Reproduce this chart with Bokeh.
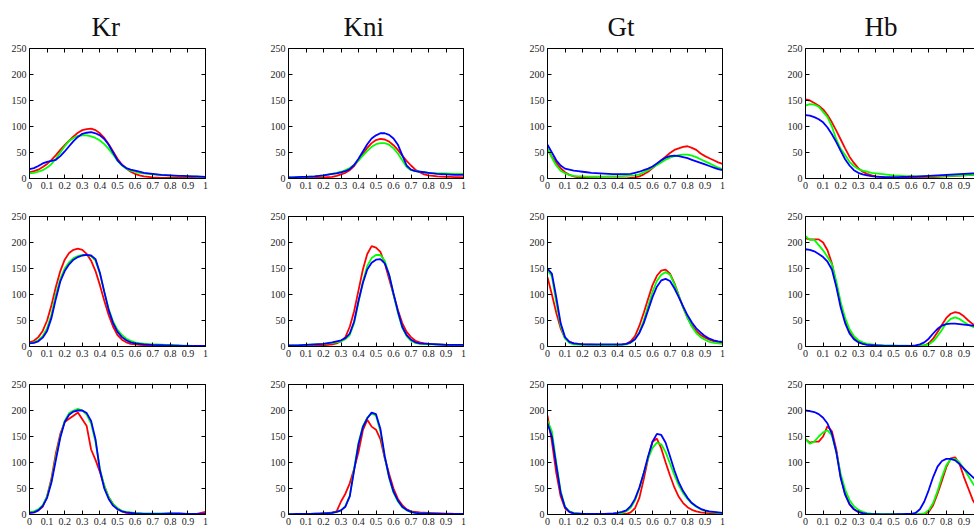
from bokeh.plotting import figure
from bokeh.models import Range1d, LinearAxis, FixedTicker, PrintfTickFormatter
from bokeh.layouts import column, row
from bokeh.embed import file_html
from bokeh.resources import INLINE

# ---------------- data ----------------
TITLES = ["Kr", "Kni", "Gt", "Hb"]
X = [0.0, 0.025, 0.05, 0.075, 0.1, 0.125, 0.15, 0.175, 0.2, 0.225,
     0.25, 0.275, 0.3, 0.325, 0.35, 0.375, 0.4, 0.425, 0.45, 0.475,
     0.5, 0.525, 0.55, 0.575, 0.6, 0.625, 0.65, 0.675, 0.7, 0.725,
     0.75, 0.775, 0.8, 0.825, 0.85, 0.875, 0.9, 0.925, 0.95, 0.975, 1.0]
X_TICKS = [0, 0.1, 0.2, 0.3, 0.4, 0.5, 0.6, 0.7, 0.8, 0.9, 1.0]
Y_TICKS = [0, 50, 100, 150, 200, 250]

# Kr
KR1_R = [12, 14, 17, 22, 28, 36, 45, 55, 64, 73, 81, 88, 93, 95, 96, 93, 87, 78, 66, 52,
         38, 27, 19, 13, 9, 6, 4, 3, 2, 1.5, 1, 1, 1, 1, 1, 1, 1, 1, 1, 1, 1]
KR1_G = [10, 11, 13, 16, 21, 28, 38, 50, 62, 72, 78, 82, 83, 83, 81, 78, 73, 66, 57, 46,
         34, 25, 19, 15, 13, 11, 10, 9, 8, 7, 6.5, 6, 5.5, 5, 5, 4.5, 4, 4, 3.5, 3, 3]
KR1_B = [18, 20, 24, 29, 32, 34, 36, 43, 52, 62, 72, 80, 86, 88, 89, 87, 83, 76, 65, 50,
         35, 26, 20, 17, 15, 13, 11, 10, 9, 8, 7, 6.5, 6, 5.5, 5, 5, 4.5, 4, 4, 3.5, 3]
KR2_R = [8, 11, 18, 30, 50, 80, 115, 145, 167, 180, 186, 188, 186, 178, 165, 145, 118, 88, 60, 38,
         22, 13, 8, 5, 4, 3, 2.5, 2, 2, 1.5, 1.5, 1, 1, 1, 1, 1, 1, 1, 1, 0.5, 0.5]
KR2_G = [6, 8, 12, 20, 35, 62, 100, 130, 150, 162, 170, 174, 176, 176, 174, 165, 140, 105, 72, 48,
         32, 22, 15, 11, 8, 6.5, 5.5, 4.5, 4, 3.8, 3.5, 3.2, 3, 2.5, 2, 1.8, 1.5, 1.2, 1, 1, 1]
KR2_B = [6, 7, 10, 17, 30, 55, 92, 125, 145, 158, 167, 172, 175, 176, 175, 168, 142, 105, 70, 45,
         28, 18, 12, 8, 6, 5, 4, 3.5, 3, 2.8, 2.5, 2.2, 2, 1.8, 1.5, 1.2, 1, 1, 1, 1, 1]
KR3_R = [3, 4, 8, 15, 35, 70, 118, 155, 178, 184, 190, 196, 183, 170, 125, 105, 82, 55, 33, 20,
         12, 6, 3, 2, 1, 1, 1, 1, 1, 1, 1, 1, 1, 1, 1, 1, 1, 1, 1, 3, 5]
KR3_G = [5, 6, 10, 18, 35, 65, 110, 150, 180, 195, 200, 203, 200, 192, 175, 140, 88, 55, 33, 20,
         12, 7, 5, 4, 3, 2.5, 2, 2, 2, 2, 2, 2, 2, 1.5, 1.5, 1, 1, 1, 1, 1, 1]
KR3_B = [3, 4, 8, 16, 32, 62, 105, 148, 178, 192, 198, 200, 200, 195, 180, 145, 85, 50, 30, 17,
         10, 6, 4, 3, 2, 1.5, 1, 1, 1, 1, 1, 1.5, 2, 2, 2, 1.5, 1, 1, 1, 1, 1]
# Kni
KNI1_R = [1, 1, 1, 1, 1, 1, 1.5, 1.5, 2, 2.5, 3, 5, 8, 11, 16, 24, 35, 47, 59, 68,
          74, 76, 75, 71, 64, 55, 44, 34, 25, 17, 12, 8, 6, 5, 4, 3.5, 3, 3, 2.5, 2.5, 2]
KNI1_G = [2, 2, 2.5, 3, 3, 3.5, 4, 5, 6, 7.5, 9, 11, 13, 16, 20, 26, 35, 44, 53, 61,
          66, 68, 68, 65, 58, 48, 35, 22, 16, 14, 13, 12, 11, 10.5, 10, 10, 10, 9.5, 9, 9, 9]
KNI1_B = [2, 2, 2.5, 3, 3, 3.5, 4, 5, 6, 7.5, 9, 10, 12, 14, 18, 26, 38, 52, 66, 77,
          83, 87, 87, 84, 77, 65, 45, 25, 17, 14, 13, 12, 11, 10, 9, 8.5, 8, 7.5, 7, 7, 7]
KNI2_R = [1, 1, 1, 1, 1, 1, 1.5, 1.5, 2, 3, 4, 6, 10, 18, 38, 68, 108, 148, 178, 193,
          190, 182, 160, 130, 100, 70, 45, 28, 18, 11, 8, 6, 5, 4.5, 4, 3.5, 3, 3, 2.5, 2, 2]
KNI2_G = [2, 2, 2, 2.5, 3, 3.5, 4, 4.5, 5, 6, 7, 8, 10, 14, 22, 45, 85, 125, 155, 170,
          176, 176, 165, 138, 100, 65, 36, 20, 11, 7, 5, 4.5, 4, 4, 3.5, 3.5, 3, 3, 3, 3, 3]
KNI2_B = [2, 2, 2, 2.5, 3, 3.5, 4, 4.5, 5, 6.5, 8, 10, 12, 16, 25, 48, 88, 122, 148, 161,
          167, 168, 160, 138, 102, 68, 38, 22, 13, 8, 6, 5.5, 5, 4.5, 4, 3.5, 3, 3, 3, 3, 3]
KNI3_R = [0, 0.5, 0.5, 1, 1, 1, 1, 1.5, 2, 2.5, 4, 6, 25, 40, 60, 88, 120, 162, 182, 169,
          163, 145, 108, 78, 50, 30, 18, 10, 6, 5, 4, 3.5, 3, 2.5, 2, 2, 1.5, 1.5, 1, 1, 1]
KNI3_G = [0.5, 0.5, 1, 1, 1, 1, 1.5, 1.5, 2, 2.5, 3, 5, 8, 16, 36, 88, 138, 170, 186, 195,
          190, 160, 110, 70, 42, 25, 14, 8, 5, 3, 2, 2, 2, 1.5, 1.5, 1, 1, 1, 1, 1, 1]
KNI3_B = [0.5, 0.5, 1, 1, 1, 1, 1.5, 1.5, 2, 2.5, 3, 5, 8, 15, 35, 85, 135, 168, 185, 196,
          193, 165, 112, 72, 44, 27, 15, 9, 5, 3, 2, 2, 2, 1.5, 1.5, 1, 1, 1, 1, 1, 1]
# Gt
GT1_R = [55, 42, 30, 20, 12, 7, 4, 2, 1, 1, 0.5, 0.5, 0, 0, 0, 0, 0, 0, 0, 1,
         2, 4, 8, 13, 20, 27, 35, 42, 49, 55, 58, 61, 62, 59, 55, 48, 43, 39, 35, 31, 28]
GT1_G = [58, 40, 25, 15, 10, 7, 5, 4, 4, 3.5, 3.5, 3.5, 3.5, 3.5, 4, 4, 4, 4.5, 5, 5.5,
         6, 8, 12, 16, 21, 26, 31, 36, 40, 43, 45, 46, 46, 44, 41, 37, 33, 29, 25, 21, 18]
GT1_B = [65, 50, 35, 25, 19, 17, 15, 14, 13, 12, 11, 10.5, 10, 9.5, 9, 8.5, 8.5, 8.5, 8.5, 9,
         11, 13, 16, 19, 23, 29, 35, 40, 43, 44, 43, 41, 39, 36, 33, 30, 27, 24, 21, 18, 16]
GT2_R = [133, 100, 65, 35, 16, 9, 6, 5, 4, 3.5, 3.5, 3, 3, 3, 3, 3, 3, 3.5, 5, 10,
         20, 40, 65, 92, 118, 136, 146, 148, 140, 122, 98, 75, 55, 40, 30, 22, 17, 13, 10, 9, 8]
GT2_G = [148, 135, 85, 40, 15, 7, 4, 3.5, 3, 3, 3, 3, 2.5, 2.5, 2.5, 2.5, 3, 3, 4, 7,
         14, 28, 50, 78, 105, 126, 138, 143, 138, 120, 98, 75, 55, 38, 26, 18, 13, 9, 7, 6, 5]
GT2_B = [150, 140, 95, 45, 18, 9, 6, 5, 4.5, 4.2, 4, 4, 4, 4, 4, 4, 4, 4, 5, 8,
         14, 26, 45, 70, 95, 115, 127, 130, 126, 112, 95, 77, 60, 46, 35, 27, 20, 15, 12, 10, 9]
GT3_R = [190, 140, 80, 35, 12, 5, 2, 1.5, 1, 1, 1, 1, 1, 0.5, 0.5, 0.5, 0.5, 0.5, 1, 4,
         12, 32, 68, 108, 140, 146, 127, 100, 75, 52, 34, 22, 14, 9, 6, 4, 3, 2.5, 2, 1.5, 1]
GT3_G = [180, 160, 100, 45, 15, 6, 3, 2, 1.5, 1.2, 1, 1, 1, 1, 1, 1, 1.5, 3, 6, 13,
         27, 50, 80, 108, 128, 138, 135, 120, 98, 76, 56, 41, 30, 21, 15, 10, 7, 5, 4, 3, 2]
GT3_B = [175, 150, 95, 42, 14, 5, 2, 1.5, 1, 1, 1, 1, 1, 1, 1.5, 2, 3, 5, 8, 16,
         30, 52, 80, 112, 140, 155, 153, 138, 112, 85, 62, 45, 32, 22, 16, 11, 8, 6, 5, 4, 3]
# Hb
HB1_R = [152, 150, 145, 140, 133, 122, 108, 92, 75, 58, 42, 30, 20, 13, 9, 6, 4, 3, 2, 1.5,
         1, 1, 1, 1, 1, 1, 1.5, 1.5, 2, 2.5, 3, 3.5, 4, 4.5, 5, 5.5, 6, 6.5, 7, 7.5, 8]
HB1_G = [140, 143, 142, 138, 128, 118, 100, 75, 57, 45, 32, 24, 18, 15, 13, 11, 10, 9, 8, 7,
         6, 5.5, 5, 4.5, 4.5, 4, 4, 4, 4, 4, 4.5, 4.5, 5, 5, 5.5, 5.5, 6, 6.5, 7, 7, 7]
HB1_B = [122, 121, 118, 114, 108, 98, 85, 70, 53, 37, 25, 16, 11, 8, 6, 4.5, 3.5, 3, 2.5, 2.5,
         2.5, 2.5, 3, 3, 3.5, 3.5, 4, 4.5, 5, 5.5, 6, 6.5, 7, 7.5, 8, 8.5, 9, 9.5, 10, 10, 10]
HB2_R = [208, 206, 206, 206, 200, 185, 160, 120, 80, 50, 30, 18, 10, 6, 4, 3, 2, 1.5, 1, 1,
         1, 1, 1, 1, 0.5, 0.5, 1, 2, 6, 15, 28, 42, 55, 63, 66, 64, 58, 50, 43, 38, 34]
HB2_G = [212, 205, 205, 195, 185, 172, 158, 125, 85, 55, 33, 20, 12, 8, 5, 4, 3, 2.5, 2, 2,
         2, 1.5, 1.5, 1.5, 1, 1, 1, 2, 4, 10, 20, 32, 45, 53, 56, 53, 47, 42, 38, 35, 33]
HB2_B = [187, 186, 183, 178, 172, 163, 148, 115, 75, 45, 25, 14, 8, 5, 3, 2.5, 2, 1.5, 1, 1,
         1, 1, 1, 1, 1, 2, 4, 8, 15, 25, 34, 40, 43, 44, 44, 43, 42, 41, 40, 39, 38]
HB3_R = [145, 138, 140, 140, 150, 170, 160, 125, 72, 40, 20, 10, 5, 2.5, 1, 0.5, 0.5, 0, 0, 0,
         0, 0, 0, 0, 0, 0, 0, 1, 5, 18, 40, 65, 91, 108, 110, 97, 72, 50, 28, 14, 8]
HB3_G = [145, 136, 140, 150, 158, 162, 152, 120, 78, 48, 28, 16, 9, 5, 2.5, 1.5, 1, 0.5, 0.5, 0.5,
         0.5, 0.5, 0.5, 0.5, 0.5, 0.5, 0.5, 2, 8, 22, 45, 72, 95, 106, 107, 100, 88, 74, 60, 50, 42]
HB3_B = [200, 199, 197, 193, 186, 175, 155, 120, 70, 38, 20, 10, 5, 2.5, 1, 0.5, 0.5, 0, 0, 0,
         0, 0.5, 0.5, 1, 1, 3, 10, 25, 47, 72, 92, 103, 107, 107, 104, 97, 88, 80, 72, 65, 58]

PANELS = [
    [(KR1_R, KR1_G, KR1_B), (KNI1_R, KNI1_G, KNI1_B), (GT1_R, GT1_G, GT1_B), (HB1_R, HB1_G, HB1_B)],
    [(KR2_R, KR2_G, KR2_B), (KNI2_R, KNI2_G, KNI2_B), (GT2_R, GT2_G, GT2_B), (HB2_R, HB2_G, HB2_B)],
    [(KR3_R, KR3_G, KR3_B), (KNI3_R, KNI3_G, KNI3_B), (GT3_R, GT3_G, GT3_B), (HB3_R, HB3_G, HB3_B)],
]
COLORS = ["#ff0000", "#00ff00", "#0000ff"]

# ---------------- layout ----------------
COL_W = [259, 259, 258, 198]
COL_RB = [54, 55, 54, 0]
COL_XEND = [1.0, 1.0, 1.0, 0.96]
ROW_H = [200, 168, 161]
ROW_TB = [48, 16, 16]
ROW_BB = [22, 22, 15]
LB = 29
TITLE_OFFSETS = [62, 55, 60, 59]


def make_axis(ticks, labels):
    ax = LinearAxis(ticker=FixedTicker(ticks=ticks),
                    formatter=PrintfTickFormatter(format="%g"))
    ax.axis_line_color = "black"
    ax.axis_line_width = 1
    ax.major_tick_in = 4
    ax.major_tick_out = 0
    ax.major_tick_line_color = "black"
    ax.minor_tick_line_color = None
    if labels:
        ax.major_label_text_font = "Liberation Serif"
        ax.major_label_text_font_size = "10px"
        ax.major_label_text_color = "#222222"
        ax.major_label_standoff = 3
    else:
        # mirrored tick marks only: labels are not drawn
        ax.major_label_text_font_size = "1px"
        ax.major_label_text_color = None
        ax.major_label_standoff = 0
    return ax


rows = []
for r in range(3):
    figs = []
    for c in range(4):
        p = figure(width=COL_W[c], height=ROW_H[r],
                   x_range=Range1d(0, COL_XEND[c]), y_range=Range1d(0, 250),
                   output_backend="svg", toolbar_location=None,
                   x_axis_location=None, y_axis_location=None,
                   min_border_left=LB, min_border_right=COL_RB[c],
                   min_border_top=ROW_TB[r], min_border_bottom=ROW_BB[r])
        p.outline_line_color = None
        p.background_fill_color = "white"
        p.border_fill_color = "white"
        p.grid.visible = False
        if r == 0:
            p.title.text = TITLES[c]
            p.title.text_font = "Liberation Serif"
            p.title.text_font_size = "27px"
            p.title.text_font_style = "normal"
            p.title.text_color = "#111111"
            p.title.align = "left"
            p.title.offset = TITLE_OFFSETS[c]
            p.title.standoff = 14
        p.add_layout(make_axis(X_TICKS, True), "below")
        p.add_layout(make_axis(Y_TICKS, True), "left")
        p.add_layout(make_axis(X_TICKS, False), "above")
        if c < 3:
            p.add_layout(make_axis(Y_TICKS, False), "right")
        for ys, col in zip(PANELS[r][c], COLORS):
            p.line(X, ys, line_color=col, line_width=1.8)
        figs.append(p)
    rows.append(row(*figs))

layout = column(*rows)
open("out.html", "w").write(file_html(layout, INLINE))
